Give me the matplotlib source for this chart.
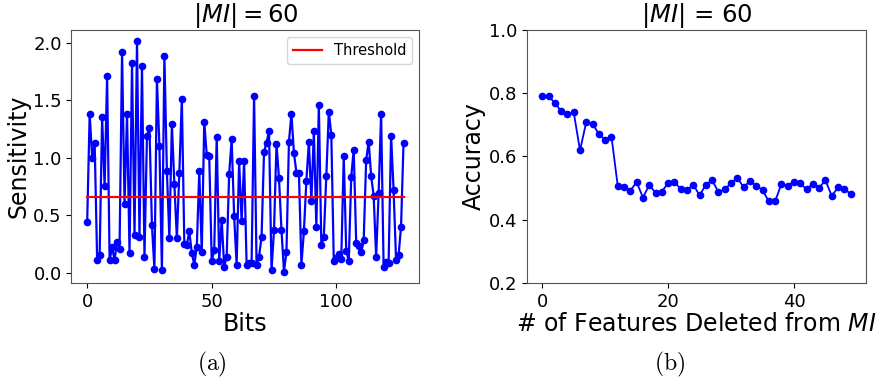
import matplotlib
matplotlib.use("Agg")
import matplotlib.pyplot as plt

# sensitivity of each bit (a)
sensitivity = [
    0.44, 1.38, 1.00, 1.13, 0.11, 0.15, 1.35, 0.75, 1.71, 0.11,
    0.22, 0.11, 0.27, 0.21, 1.92, 0.60, 1.38, 0.17, 1.82, 0.33,
    2.01, 0.31, 1.80, 0.14, 1.19, 1.26, 0.41, 0.03, 1.68, 1.10,
    0.02, 1.88, 0.88, 0.30, 1.29, 0.77, 0.30, 0.87, 1.51, 0.25,
    0.24, 0.36, 0.17, 0.07, 0.22, 0.88, 0.18, 1.31, 1.02, 1.01,
    0.10, 0.20, 1.18, 0.10, 0.46, 0.05, 0.14, 0.86, 1.16, 0.49,
    0.07, 0.97, 0.45, 0.97, 0.07, 0.08, 0.08, 1.54, 0.07, 0.14,
    0.31, 1.05, 1.13, 1.23, 0.02, 0.37, 1.12, 0.82, 0.37, 0.01,
    0.18, 1.14, 1.38, 1.04, 0.87, 0.87, 0.07, 0.36, 0.80, 1.14,
    0.62, 1.23, 0.40, 1.46, 0.24, 0.31, 0.84, 1.40, 1.20, 0.10,
    0.13, 0.16, 0.12, 1.01, 0.19, 0.10, 0.83, 1.07, 0.26, 0.23,
    0.18, 0.28, 0.98, 1.14, 0.84, 0.67, 0.14, 0.69, 1.38, 0.05,
    0.09, 0.08, 1.19, 0.72, 0.11, 0.15, 0.40, 1.13,
]
bits = list(range(len(sensitivity)))
threshold = 0.66

# accuracy vs number of deleted features (b)
accuracy = [
    0.79, 0.79, 0.77, 0.743, 0.733, 0.74, 0.619, 0.71, 0.704, 0.67,
    0.653, 0.663, 0.506, 0.503, 0.492, 0.519, 0.47, 0.51, 0.485, 0.489,
    0.516, 0.52, 0.497, 0.493, 0.511, 0.477, 0.511, 0.525, 0.487, 0.496,
    0.516, 0.532, 0.503, 0.522, 0.508, 0.494, 0.458, 0.458, 0.513, 0.508,
    0.52, 0.515, 0.496, 0.514, 0.501, 0.525, 0.475, 0.502, 0.497, 0.482,
]
deleted = list(range(len(accuracy)))

fig = plt.figure(figsize=(8.81, 3.84), dpi=100)
ax1 = fig.add_axes([0.081, 0.263, 0.395, 0.659])
ax2 = fig.add_axes([0.598, 0.263, 0.385, 0.659])

# (a) sensitivity per bit
ax1.plot(bits, sensitivity, color="blue", marker="o", markersize=4.5, linewidth=1.6)
ax1.plot(bits, [threshold] * len(bits), color="red", linewidth=1.6, label="Threshold")
ax1.set_xticks([0, 50, 100])
ax1.set_xlabel("Bits", fontsize=17, labelpad=1)
ax1.set_ylabel("Sensitivity", fontsize=17, labelpad=2)
ax1.set_title(r"$|MI| = 60$", fontsize=17.5, pad=1)
ax1.tick_params(labelsize=13)
ax1.legend(loc="upper right", fontsize=10.5)

# (b) accuracy
ax2.plot(deleted, accuracy, color="blue", marker="o", markersize=4.5, linewidth=1.3)
ax2.set_ylim(0.2, 1.0)
ax2.set_yticks([0.2, 0.4, 0.6, 0.8, 1.0])
ax2.set_xticks([0, 20, 40])
ax2.set_xlabel(r"# of Features Deleted from $MI$", fontsize=17, labelpad=1)
ax2.set_ylabel("Accuracy", fontsize=17, labelpad=2)
ax2.set_title(r"$|MI|$ = 60", fontsize=17.5, pad=1)
ax2.tick_params(labelsize=13)

for ax in (ax1, ax2):
    for s in ax.spines.values():
        s.set_color("#555555")

fig.text(0.241, 0.035, r"$\mathrm{(a)}$", fontsize=17, ha="center", math_fontfamily="cm")
fig.text(0.76, 0.035, r"$\mathrm{(b)}$", fontsize=17, ha="center", math_fontfamily="cm")

fig.savefig("out.png", dpi=100)
